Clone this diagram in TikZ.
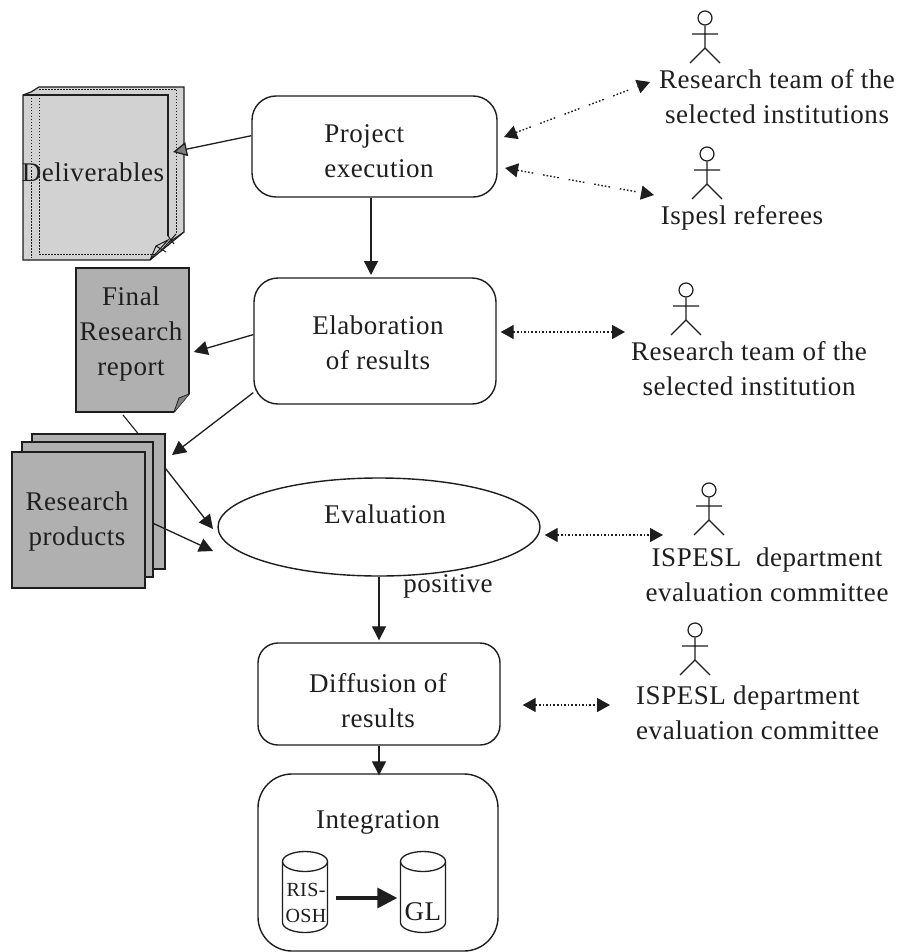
\documentclass[tikz,border=0pt]{standalone}
\usepackage{fontspec}
\setmainfont{Liberation Serif}[LetterSpace=2]
\usetikzlibrary{arrows.meta,shapes.geometric,calc}
\definecolor{ink}{HTML}{1E1E1E}
\definecolor{pagegray}{HTML}{B0B0B0}
\definecolor{lightgray2}{HTML}{D2D2D2}
\tikzset{
  every node/.style={text=ink},
  flowbox/.style={draw=ink,line width=1.4pt,rectangle,inner sep=0pt,fill=none},
  pagebox/.style={draw=ink,line width=1.4pt,rectangle,inner sep=0pt,fill=pagegray},
  lbl/.style={align=center,inner sep=0pt,font=\fontsize{27}{35}\selectfont},
  lbll/.style={lbl,align=left},
  lbls/.style={align=center,inner sep=0pt,font=\fontsize{20}{26}\selectfont},
  arr/.style={draw=ink,line width=1.3pt,-{Triangle[length=14pt,width=14pt]}},
  dbl/.style={draw=ink,line width=1.4pt,dash pattern=on 1.6pt off 2pt,{Triangle[length=13pt,width=14pt]}-{Triangle[length=13pt,width=14pt]}},
  broken/.style={dash pattern=on 1.6pt off 2pt on 1.6pt off 2pt on 1.6pt off 2pt on 1.6pt off 2pt on 1.6pt off 10pt},
  cylbox/.style={inner sep=0pt,minimum width=45pt,minimum height=81pt},
  stick/.pic={
    \node[draw=ink,line width=1.2pt,circle,minimum size=14pt,inner sep=0pt] (-head) at (0,0) {};
    \draw[ink,line width=1.2pt] (-head.south) -- (0,30) (-13,16) -- (13,16) (-15,45) -- (0,30) -- (15,45);
  },
  cylpic/.pic={
    \draw[ink,line width=1.3pt] (0,-30.5) ellipse [x radius=22.5,y radius=10];
    \draw[ink,line width=1.3pt] (-22.5,-30.5) -- (-22.5,30.5) arc [start angle=180,end angle=0,x radius=22.5,y radius=10] -- (22.5,-30.5);
  }
}
\begin{document}
\begin{tikzpicture}[x=1pt,y=-1pt]
\useasboundingbox[fill=white] (0,0) rectangle (900,952);

% Deliverables stack
\path[fill=lightgray2,draw=ink,line width=1.2pt]
  (23,95) -- (31,92) -- (39,87) -- (184,87) -- (184,232) -- (150,260) -- (23,260) -- cycle;
\draw[ink,line width=1.1pt] (23,95) -- (168,95) -- (168,236);
\draw[ink,line width=1pt,dash pattern=on 1.5pt off 1.5pt]
  (31,95) -- (31,258) (39,95) -- (39,254) -- (155,254)
  (39,90) -- (176,90) (176,90) -- (176,233);
\draw[ink,line width=1pt] (150,260) -- (156,246) -- (168,240) -- (150,260)
  (160,252) -- (176,234) (156,246) -- (166,252) (168,236) -- (174,244) (168,243) -- (184,232);
\node[lbl] (deliv) at (93,172) {Deliverables};
\coordinate (delivTip) at (173,152);

% Final report
\node[pagebox,minimum width=113pt,minimum height=144pt] (final) at (132.5,340) {};
\fill[white] (189.8,394) -- (189.8,413) -- (174,413) -- cycle;
\draw[ink,line width=1.4pt] (174,412) -- (189,394);
\fill[gray] (174,412) -- (179,398) -- (189,394) -- cycle;
\draw[ink,line width=.8pt] (174,412) -- (179,398) -- (189,394);
\node[lbl] (finalt) at (131,334) {Final\\Research\\report};

% Research products
\node[pagebox,minimum width=133pt,minimum height=135pt] (resback) at (98.5,501.5) {};
\node[pagebox,minimum width=131pt,minimum height=135pt] (resmid) at (87.5,509.5) {};
\node[pagebox,minimum width=133pt,minimum height=136pt] (resfront) at (78.5,520) {};
\node[lbl] (rest) at (77,522) {Research\\products};

% Flow boxes
\node[flowbox,rounded corners=24pt,minimum width=245pt,minimum height=101pt] (proj) at (374.5,146.5) {};
\node[lbll] (projt) at (379,151) {Project\\execution};
\node[flowbox,rounded corners=24pt,minimum width=242pt,minimum height=126pt] (elab) at (375,341) {};
\node[lbl] (elabt) at (378,343) {Elaboration\\of results};
\node[flowbox,ellipse,minimum width=322pt,minimum height=98pt] (eval) at (379,527) {};
\node[lbl] (evalt) at (385,514) {Evaluation};
\node[lbl] (pos) at (448,586) {positive};
\node[flowbox,rounded corners=20pt,minimum width=242pt,minimum height=102pt] (diff) at (379,694) {};
\node[lbl] (difft) at (378,701) {Diffusion of\\results};
\node[flowbox,rounded corners=34pt,minimum width=240pt,minimum height=177pt] (integ) at (378,862.5) {};
\node[lbl] (integt) at (378,822) {Integration};

% Cylinders
\node[cylbox] (ris) at (305,892) {};
\node[cylbox] (gl) at (423,892) {};
\pic at (ris.center) {cylpic};
\pic at (gl.center) {cylpic};
\node[lbls] (rist) at (306,903) {RIS-\\OSH};
\node[lbl] (glt) at (423,912) {GL};
\draw[ink,line width=3.5pt,-{Triangle[length=20pt,width=20pt]}] ($(ris.east)+(8,6)$) -- ($(gl.west)+(-3,6)$);

% Actors
\pic (a1) at (705,18) {stick};
\pic (a2) at (707,154) {stick};
\pic (a3) at (686,290) {stick};
\pic (a4) at (709,490) {stick};
\pic (a5) at (695,630) {stick};

% Actor labels
\node[lbl] (a1t) at (777,97) {Research team of the\\selected institutions};
\node[lbl] (a2t) at (742,218) {Ispesl referees};
\node[lbl] (a3t) at (749,369) {Research team of the\\selected institution};
\node[lbl] (a4t) at (767,575) {ISPESL\ \ department\\evaluation committee};
\node[lbll,anchor=west] (a5t) at (636,713) {ISPESL department\\evaluation committee};

% Flow connectors
\draw[draw=ink,line width=1.3pt,-{Triangle[length=14pt,width=14pt,fill=gray]}] (proj.175) -- (delivTip);
\draw[arr] (proj.south -| 371,0) -- (371,275);
\draw[arr] (elab.177.6) -- ($(final.east)+(4,12)$);
\coordinate (resTip) at (172,455);
\draw[arr] (elab.203) -- (resTip);
\draw[draw=ink,line width=1.1pt] (123,415) -- (resback.60.3);
\coordinate (evalIn1) at (213,529);
\coordinate (evalIn2) at (213,551);
\draw[arr] (resback.26.7) -- (evalIn1);
\draw[arr] (resmid.-12.5) -- (evalIn2);
\draw[arr] (eval.south) -- ($(diff.north)+(0,-2)$);
\draw[arr] (diff.south) -- ($(integ.north)+(1,2)$);

% Dotted two-way connectors
\coordinate (p1) at (504,137); \coordinate (p1b) at (650,82);
\coordinate (p2) at (505,168); \coordinate (p2b) at (654,195);
\draw[dbl,broken] (p1) -- (p1b);
\draw[dbl,broken] (p2) -- (p2b);
\draw[dbl] ($(elab.east)+(4,-9)$) -- (625,332);
\draw[dbl] ($(eval.east)+(4,8)$) -- (663,535);
\draw[dbl] ($(diff.east)+(22,11)$) -- (610,705);
\end{tikzpicture}
\end{document}
